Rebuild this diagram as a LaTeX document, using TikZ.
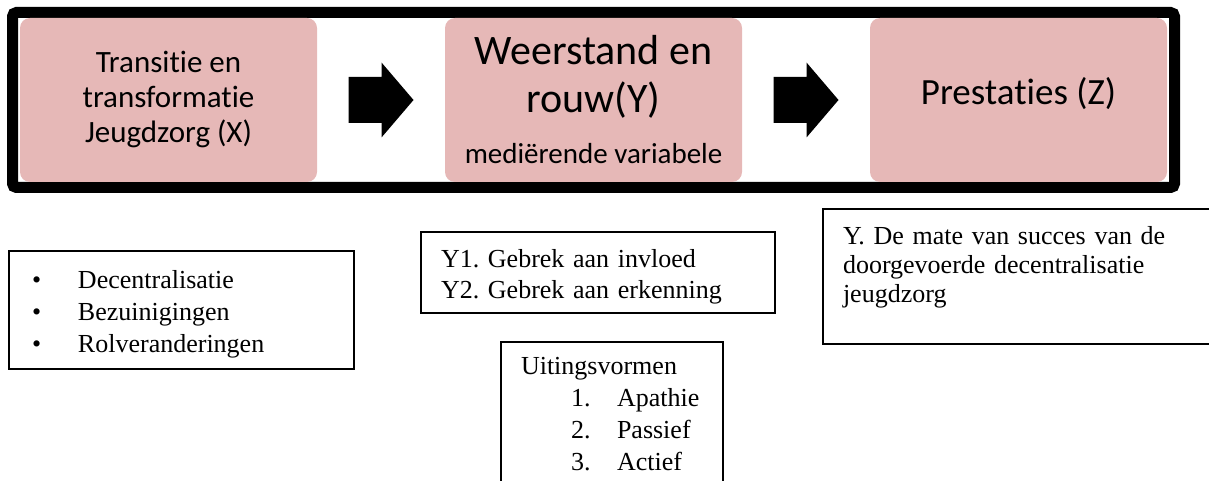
\documentclass[tikz,border=0pt]{standalone}
\usepackage{fontspec}
\setmainfont{Liberation Serif}
\newfontfamily\carlito[Ligatures=NoCommon]{Carlito}
\usepackage{tikz}
\usetikzlibrary{positioning, calc}
\definecolor{blokroze}{RGB}{230,184,183}
\frenchspacing

\begin{document}
\begin{tikzpicture}[
        x=1pt, y=-1pt,
        node distance=128pt,
        kader/.style={draw, line width=11pt, rounded corners=4pt, minimum width=1162pt, minimum height=175pt, inner sep=0pt},
        blok/.style={fill=blokroze, rounded corners=10pt, minimum width=297pt, minimum height=164pt, inner sep=0pt, outer sep=0pt, align=center},
        tekstvak/.style={draw, line width=1.5pt, align=left, inner xsep=20pt, inner ysep=0pt, font=\fontsize{26}{31}\selectfont}
    ]
    \useasboundingbox (0,0) rectangle (1209,481);

    \node[kader] (kader) at (593.5,100) {};

    \node[blok, font=\carlito\fontsize{31}{35}\selectfont] (transitie) at (168.5,100) {Transitie en\\transformatie\\Jeugdzorg (X)};
    \node[blok, font=\carlito\fontsize{42}{48}\selectfont] (weerstand) [right=of transitie] {Weerstand en\\rouw(Y)\\[3pt]{\fontsize{29}{35}\selectfont mediërende variabele}};
    \node[blok, font=\carlito\fontsize{37}{44}\selectfont, text depth=18pt] (prestaties) [right=of weerstand] {Prestaties (Z)};

    \coordinate (pijl1) at ($(transitie.east)!0.5!(weerstand.west)$);
    \coordinate (pijl2) at ($(weerstand.east)!0.5!(prestaties.west)$);
    \foreach \p in {pijl1, pijl2}
        \fill (\p) ++(-32.5,-23) -- ++(33,0) -- ++(0,-14.5) -- ++(32,37.5) -- ++(-32,37.5) -- ++(0,-14.5) -- ++(-33,0) -- cycle;

    \node[tekstvak, font=\fontsize{26}{32}\selectfont, minimum width=345pt, minimum height=118pt, inner xsep=23pt, text width=299pt, text depth=62pt] (oorzaken) at (181.5,310) {\makebox[46pt][l]{\textbullet}Decentralisatie\\\makebox[46pt][l]{\textbullet}Bezuinigingen\\\makebox[46pt][l]{\textbullet}Rolveranderingen};
    \node[tekstvak, minimum width=354pt, minimum height=81pt, text width=314pt, text depth=29pt] (gebrek) at (598,272.5) {Y1. Gebrek aan invloed\\Y2. Gebrek aan erkenning};
    \node[tekstvak, font=\fontsize{26}{29}\selectfont, minimum width=392pt, minimum height=135pt, text width=352pt, text depth=83pt] (succes) at (1019,276.5) {Y. De mate van succes van de\\doorgevoerde decentralisatie\\jeugdzorg};
    \node[tekstvak, font=\fontsize{26}{32}\selectfont, anchor=north, minimum width=222pt, text width=182pt, inner ysep=16pt] (uitingen) at (612,341) {Uitingsvormen\\\hspace*{50pt}\makebox[46pt][l]{1.}Apathie\\\hspace*{50pt}\makebox[46pt][l]{2.}Passief\\\hspace*{50pt}\makebox[46pt][l]{3.}Actief};

\end{tikzpicture}
\end{document}
